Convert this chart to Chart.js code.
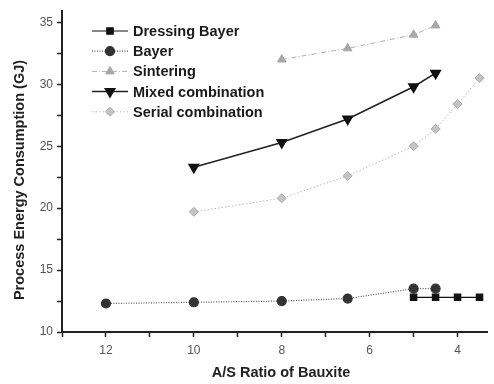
<!DOCTYPE html>
<html>
<head>
<meta charset="utf-8">
<script src="https://cdn.jsdelivr.net/npm/chart.js@4.4.1/dist/chart.umd.min.js"></script>
<style>
  html, body { margin: 0; padding: 0; background: #fff; }
  #wrap { width: 494px; height: 384px; }
</style>
</head>
<body>
<div id="wrap"><canvas id="myChart" width="494" height="384"></canvas></div>
<script>
// values
const dressingX = [5, 4.5, 4, 3.5];
const dressingY = [12.8, 12.8, 12.8, 12.8];
const bayerX = [12, 10, 8, 6.5, 5, 4.5];
const bayerY = [12.3, 12.4, 12.5, 12.7, 13.5, 13.5];
const sinterX = [8, 6.5, 5, 4.5];
const sinterY = [32.0, 32.9, 34.0, 34.75];
const mixedX = [10, 8, 6.5, 5, 4.5];
const mixedY = [23.3, 25.3, 27.2, 29.8, 30.9];
const serialX = [10, 8, 6.5, 5, 4.5, 4, 3.5];
const serialY = [19.7, 20.8, 22.6, 25.0, 26.4, 28.4, 30.5];

const xTicks = [13, 12, 11, 10, 9, 8, 7, 6, 5, 4];
const yTicks = [10, 12.5, 15, 17.5, 20, 22.5, 25, 27.5, 30, 32.5, 35];
const xTitle = 'A/S Ratio of Bauxite';
const yTitle = 'Process Energy Consumption (GJ)';

function pts(xs, ys) {
    return xs.map((x, i) => ({x: x, y: ys[i]}));
}

const data = {
    datasets: [
        {label: 'Dressing Bayer', data: pts(dressingX, dressingY), borderColor: '#111', backgroundColor: '#111',
         borderWidth: 1.2, pointStyle: 'rect', pointRadius: 4.5},
        {label: 'Bayer', data: pts(bayerX, bayerY), borderColor: '#555', backgroundColor: '#333',
         borderWidth: 1.2, borderDash: [1, 1.5], pointStyle: 'circle', pointRadius: 4.5, pointBorderColor: '#333'},
        {label: 'Sintering', data: pts(sinterX, sinterY), borderColor: '#b0b0b0', backgroundColor: '#a8a8a8',
         borderWidth: 1, borderDash: [5, 2, 1, 2], pointStyle: 'triangle', pointRadius: 5, pointBorderColor: '#a8a8a8'},
        {label: 'Mixed combination', data: pts(mixedX, mixedY), borderColor: '#222', backgroundColor: '#111',
         borderWidth: 1.5, pointStyle: 'triangle', rotation: 180, pointRadius: 5.5, pointBorderColor: '#111'},
        {label: 'Serial combination', data: pts(serialX, serialY), borderColor: '#b8b8b8', backgroundColor: '#c4c4c4',
         borderWidth: 1, borderDash: [1.5, 2], pointStyle: 'rectRot', pointRadius: 4.5, pointBorderColor: '#a8a8a8'}
    ]
};

// legend inside the plot, top left, plus axis titles
const insideLegend = {
    id: 'insideLegend',
    afterDraw(chart) {
        const ctx = chart.ctx;
        ctx.save();
        chart.data.datasets.forEach((ds, i) => {
            const y = 31 + i * 20.2;
            ctx.strokeStyle = ds.borderColor;
            ctx.lineWidth = ds.borderWidth;
            ctx.setLineDash(ds.borderDash || []);
            ctx.beginPath();
            ctx.moveTo(92, y);
            ctx.lineTo(128, y);
            ctx.stroke();
            ctx.setLineDash([]);
            ctx.fillStyle = ds.backgroundColor;
            ctx.strokeStyle = ds.pointBorderColor || ds.borderColor;
            Chart.helpers.drawPoint(ctx, {pointStyle: ds.pointStyle, radius: ds.pointRadius,
                borderWidth: 1, rotation: ds.rotation || 0}, 110, y);
            ctx.fillStyle = '#1a1a1a';
            ctx.font = 'bold 14.5px "Liberation Sans", Arial, sans-serif';
            ctx.textBaseline = 'middle';
            ctx.fillText(ds.label, 133, y + 1);
        });

        ctx.fillStyle = '#222';
        ctx.font = 'bold 14.5px "Liberation Sans", Arial, sans-serif';
        ctx.textAlign = 'center';
        ctx.textBaseline = 'middle';
        ctx.fillText(xTitle, 281, 373);
        ctx.translate(20, 180);
        ctx.rotate(-Math.PI / 2);
        ctx.fillText(yTitle, 0, 0);
        ctx.restore();
    }
};

const config = {
    type: 'line',
    data: data,
    options: {
        responsive: false,
        animation: false,
        layout: {padding: {top: 4, right: 0, left: 0, bottom: 0}},
        plugins: {legend: {display: false}, tooltip: {enabled: false}},
        scales: {
            x: {
                type: 'linear', reverse: true, min: 3.33, max: 13,
                afterBuildTicks: s => { s.ticks = xTicks.map(v => ({value: v})); },
                afterFit: s => { s.height = 52; },
                ticks: {
                    color: '#555', font: {family: '"Liberation Sans", Arial', size: 12}, padding: 6,
                    callback: v => (v % 2 === 0 ? String(v) : '')
                },
                grid: {drawOnChartArea: false, drawTicks: true, tickLength: 5, color: '#222', tickWidth: 1.5},
                border: {display: true, color: '#222', width: 2}
            },
            y: {
                type: 'linear', min: 10, max: 35.9,
                afterBuildTicks: s => { s.ticks = yTicks.map(v => ({value: v})); },
                afterFit: s => { s.width = 62; },
                ticks: {
                    color: '#555', font: {family: '"Liberation Sans", Arial', size: 12}, padding: 4,
                    callback: v => (v % 5 === 0 ? String(v) : '')
                },
                grid: {drawOnChartArea: false, drawTicks: true, tickLength: 5, color: '#222', tickWidth: 1.5},
                border: {display: true, color: '#222', width: 2}
            }
        }
    },
    plugins: [insideLegend]
};

const myChart = new Chart(document.getElementById('myChart'), config);
</script>
</body>
</html>
